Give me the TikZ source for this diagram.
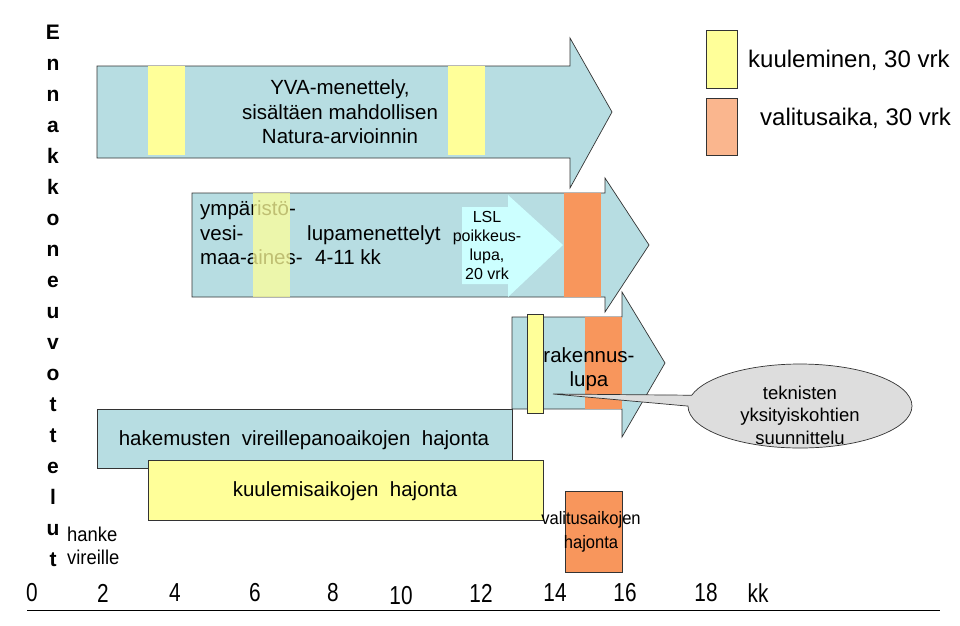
\documentclass[tikz,border=0pt]{standalone}
\usepackage{fontspec}
\usepackage{graphicx}
\setmainfont{Liberation Sans}
\usetikzlibrary{shapes.callouts,shapes.geometric}

\definecolor{vaihe}{RGB}{183,221,226}
\definecolor{kuulo}{RGB}{255,255,153}
\definecolor{valitus}{RGB}{248,150,92}
\definecolor{valitusl}{RGB}{250,182,142}
\definecolor{lsl}{RGB}{204,255,255}
\definecolor{pilvi}{RGB}{221,221,221}
\newcommand\kapea[1]{\scalebox{0.8}[1]{#1}}
\newcommand\kapeahko[1]{\scalebox{0.92}[1]{#1}}

\begin{document}
\begin{tikzpicture}[
x=1pt, y=-1pt,
    reuna/.style={draw=black!80,line width=0.7pt},
    teksti/.style={inner sep=0pt,align=center,font=\fontsize{20.5}{24.5}\selectfont},
    pieni/.style={inner sep=0pt,align=center,font=\fontsize{16}{19}\selectfont},
    akseli/.style={inner sep=0pt,font=\fontsize{26}{28}\selectfont}
]
\useasboundingbox (0,0) rectangle (960,625);

% YVA-nuoli
\draw[reuna,fill=vaihe] (97,66) -- (570,66) -- (570,38) -- (612,112) -- (570,188)
  -- (570,158) -- (97,158) -- cycle;
\fill[kuulo] (148,66) rectangle (185,155);
\fill[kuulo] (448,66) rectangle (485,155);
\node[teksti] (yva) at (340,112) {YVA-menettely,\\sisältäen mahdollisen\\Natura-arvioinnin};

% lupamenettelyt
\draw[reuna,fill=vaihe] (192,193) -- (605,193) -- (605,178) -- (649,245) -- (605,312)
  -- (605,297) -- (192,297) -- cycle;
\fill[lsl] (462,207) -- (508,207) -- (508,195) -- (563,245) -- (508,297) -- (508,284)
  -- (462,284) -- cycle;
\fill[valitus] (564,193) rectangle (601,297);
\node[teksti,align=left,anchor=west] (ymp) at (200,233) {ympäristö-\\vesi-\\maa-aines-};
\node[teksti,align=left,anchor=west] (lupa) at (307,245) {lupamenettelyt\\\hspace{8pt}4-11 kk};
\fill[kuulo,fill opacity=0.75] (253,193) rectangle (290,297);
\node[pieni] (poik) at (487,245) {LSL\\poikkeus-\\lupa,\\20 vrk};

% rakennuslupa
\draw[reuna,fill=vaihe] (512,317) -- (622,317) -- (622,292) -- (665,363) -- (622,437)
  -- (622,409) -- (512,409) -- cycle;
\fill[valitus] (585,317) rectangle (622,409);
\node[teksti] (rak) at (589,369) {rakennus-\\lupa};

% hajonnat
\draw[reuna,fill=vaihe] (97,409) rectangle (512,468);
\node[teksti] (hak) at (304,440) {hakemusten\ \ vireillepanoaikojen\ \ hajonta};
\draw[reuna,fill=kuulo] (148,460) rectangle (543,520);
\node[teksti] (kuul) at (345,491) {kuulemisaikojen\ \ hajonta};
\draw[reuna,fill=kuulo] (527,314) rectangle (543,413);
\draw[reuna,fill=valitus] (565,491) rectangle (622,572);
\node[pieni,font=\fontsize{18}{24}\selectfont] (val) at (591,532) {\kapeahko{valitusaikojen}\\\kapeahko{hajonta}};

% puhekupla
\node[ellipse callout,reuna,fill=pilvi,minimum width=224pt,minimum height=84pt,
  callout absolute pointer={(553,394)}] (tek) at (800,406) {};
\node[teksti,font=\fontsize{18.5}{22.5}\selectfont] (tekt) at (800,415) {teknisten\\yksityiskohtien\\suunnittelu};

% selitteet
\draw[reuna,fill=kuulo] (706,30) rectangle (737,88);
\node[teksti,anchor=west,font=\fontsize{24}{26}\selectfont] (sel1) at (748,60) {kuuleminen, 30 vrk};
\draw[reuna,fill=valitusl] (706,98) rectangle (737,155);
\node[teksti,anchor=west,font=\fontsize{24}{26}\selectfont] (sel2) at (760,118) {valitusaika, 30 vrk};

% pystyteksti
\node[inner sep=0pt,align=center,font=\fontsize{21}{31}\bfseries] (enn) at (53,296)
  {E\\n\\n\\a\\k\\k\\o\\n\\e\\u\\v\\o\\t\\t\\e\\l\\u\\t};
\node[inner sep=0pt,align=left,anchor=west,font=\fontsize{20}{23}\selectfont] (hanke) at (67,546)
  {\kapeahko{hanke}\\\kapeahko{vireille}};

% aika-akseli
\node[akseli] (t0) at (32,593) {\kapea{0}};
\node[akseli] (t2) at (103,593) {\kapea{2}};
\node[akseli] (t4) at (175,593) {\kapea{4}};
\node[akseli] (t6) at (255,593) {\kapea{6}};
\node[akseli] (t8) at (333,593) {\kapea{8}};
\node[akseli] (t10) at (401,596) {\kapea{10}};
\node[akseli] (t12) at (481,593) {\kapea{12}};
\node[akseli] (t14) at (555,593) {\kapea{14}};
\node[akseli] (t16) at (625,593) {\kapea{16}};
\node[akseli] (t18) at (706,593) {\kapea{18}};
\node[akseli] (kk) at (758,593) {\kapea{kk}};
\coordinate (a0) at (27,610);
\coordinate (a1) at (940,610);
\draw[line width=0.8pt] (a0) -- (a1);

\end{tikzpicture}
\end{document}
